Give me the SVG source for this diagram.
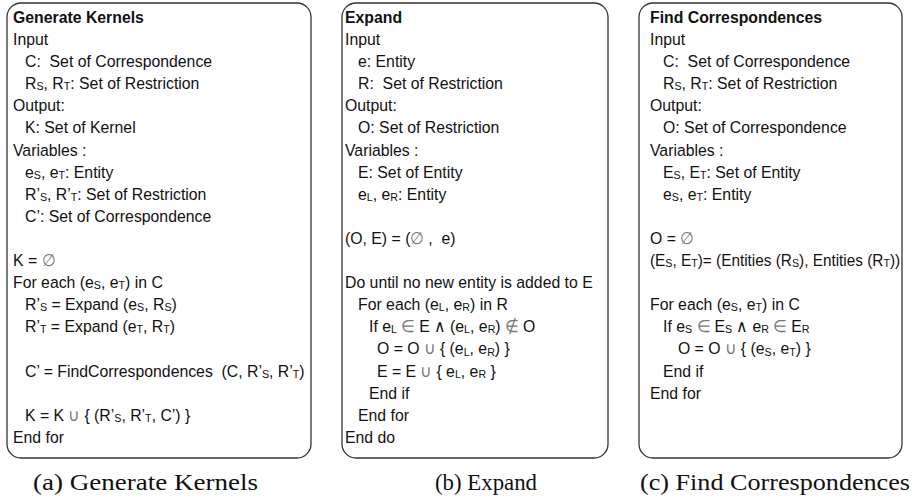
<svg xmlns="http://www.w3.org/2000/svg" width="912" height="502" viewBox="0 0 912 502">
  <style>
    .frame { fill: #fff; stroke: #333; stroke-width: 1.3; }
    .code { font-family: "Liberation Sans", Arial, sans-serif; font-size: 17px; fill: #111; }
    .title { font-weight: bold; }
    .s { font-size: 11.5px; baseline-shift: -1.5px; }
    .m { fill: #777; }
    .tight { font-size: 16.5px; }
    .cap { font-family: "Liberation Serif", "Times New Roman", serif; font-size: 23px; fill: #111; }
  </style>
  <rect width="912" height="502" fill="#fff"/>

  <!-- (a) Generate Kernels -->
  <g id="generate-kernels">
    <rect class="frame" x="7" y="3" width="304" height="455" rx="14" ry="14"/>
    <g class="code" transform="translate(13 0) scale(0.93 1)">
      <text class="title" x="0" y="23">Generate Kernels</text>
      <text x="0" y="45.1">Input</text>
      <text x="12.9" y="67.2">C:&#160; Set of Correspondence</text>
      <text x="12.9" y="89.3">R<tspan class="s">S</tspan>, R<tspan class="s">T</tspan>: Set of Restriction</text>
      <text x="0" y="111.4">Output:</text>
      <text x="12.9" y="133.5">K: Set of Kernel</text>
      <text x="0" y="155.6">Variables :</text>
      <text x="12.9" y="177.7">e<tspan class="s">S</tspan>, e<tspan class="s">T</tspan>: Entity</text>
      <text x="12.9" y="199.8">R’<tspan class="s">S</tspan>, R’<tspan class="s">T</tspan>: Set of Restriction</text>
      <text x="12.9" y="221.9">C’: Set of Correspondence</text>
      <text x="0" y="266.1">K = <tspan class="m">∅</tspan></text>
      <text x="0" y="288.2">For each (e<tspan class="s">S</tspan>, e<tspan class="s">T</tspan>) in C</text>
      <text x="12.9" y="310.3">R’<tspan class="s">S</tspan> = Expand (e<tspan class="s">S</tspan>, R<tspan class="s">S</tspan>)</text>
      <text x="12.9" y="332.4">R’<tspan class="s">T</tspan> = Expand (e<tspan class="s">T</tspan>, R<tspan class="s">T</tspan>)</text>
      <text x="12.9" y="376.6">C’ = FindCorrespondences&#160; (C, R’<tspan class="s">S</tspan>, R’<tspan class="s">T</tspan>)</text>
      <text x="12.9" y="420.8">K = K <tspan class="m">∪</tspan> { (R’<tspan class="s">S</tspan>, R’<tspan class="s">T</tspan>, C’) }</text>
      <text x="0" y="442.9">End for</text>
    </g>
    <text class="cap" x="33" y="490" textLength="225" lengthAdjust="spacingAndGlyphs">(a) Generate Kernels</text>
  </g>

  <!-- (b) Expand -->
  <g id="expand">
    <rect class="frame" x="342" y="3" width="266" height="455" rx="14" ry="14"/>
    <g class="code" transform="translate(345 0) scale(0.93 1)">
      <text class="title" x="0" y="23">Expand</text>
      <text x="0" y="45.1">Input</text>
      <text x="14" y="67.2">e: Entity</text>
      <text x="14" y="89.3">R:&#160; Set of Restriction</text>
      <text x="0" y="111.4">Output:</text>
      <text x="14" y="133.5">O: Set of Restriction</text>
      <text x="0" y="155.6">Variables :</text>
      <text x="14" y="177.7">E: Set of Entity</text>
      <text x="14" y="199.8">e<tspan class="s">L</tspan>, e<tspan class="s">R</tspan>: Entity</text>
      <text x="0" y="244">(O, E) = (<tspan class="m">∅</tspan> ,&#160; e)</text>
      <text x="0" y="288.2">Do until no new entity is added to E</text>
      <text x="14" y="310.3">For each (e<tspan class="s">L</tspan>, e<tspan class="s">R</tspan>) in R</text>
      <text x="25.8" y="332.4">If e<tspan class="s">L</tspan> <tspan class="m">∈</tspan> E ∧ (e<tspan class="s">L</tspan>, e<tspan class="s">R</tspan>) <tspan class="m">∉</tspan> O</text>
      <text x="34.4" y="354.5">O = O <tspan class="m">∪</tspan> { (e<tspan class="s">L</tspan>, e<tspan class="s">R</tspan>) }</text>
      <text x="34.4" y="376.6">E = E <tspan class="m">∪</tspan> { e<tspan class="s">L</tspan>, e<tspan class="s">R</tspan> }</text>
      <text x="25.8" y="398.7">End if</text>
      <text x="14" y="420.8">End for</text>
      <text x="0" y="442.9">End do</text>
    </g>
    <text class="cap" x="435" y="490" textLength="102" lengthAdjust="spacingAndGlyphs">(b) Expand</text>
  </g>

  <!-- (c) Find Correspondences -->
  <g id="find-correspondences">
    <rect class="frame" x="639" y="3" width="263" height="455" rx="14" ry="14"/>
    <g class="code" transform="translate(650 0) scale(0.93 1)">
      <text class="title" x="0" y="23">Find Correspondences</text>
      <text x="0" y="45.1">Input</text>
      <text x="14" y="67.2">C:&#160; Set of Correspondence</text>
      <text x="14" y="89.3">R<tspan class="s">S</tspan>, R<tspan class="s">T</tspan>: Set of Restriction</text>
      <text x="0" y="111.4">Output:</text>
      <text x="14" y="133.5">O: Set of Correspondence</text>
      <text x="0" y="155.6">Variables :</text>
      <text x="14" y="177.7">E<tspan class="s">S</tspan>, E<tspan class="s">T</tspan>: Set of Entity</text>
      <text x="14" y="199.8">e<tspan class="s">S</tspan>, e<tspan class="s">T</tspan>: Entity</text>
      <text x="0" y="244">O = <tspan class="m">∅</tspan></text>
      <text class="tight" x="0" y="266.1">(E<tspan class="s">S</tspan>, E<tspan class="s">T</tspan>)= (Entities (R<tspan class="s">S</tspan>), Entities (R<tspan class="s">T</tspan>))</text>
      <text x="0" y="310.3">For each (e<tspan class="s">S</tspan>, e<tspan class="s">T</tspan>) in C</text>
      <text x="14" y="332.4">If e<tspan class="s">S</tspan> <tspan class="m">∈</tspan> E<tspan class="s">S</tspan> ∧ e<tspan class="s">R</tspan> <tspan class="m">∈</tspan> E<tspan class="s">R</tspan></text>
      <text x="30" y="354.5">O = O <tspan class="m">∪</tspan> { (e<tspan class="s">S</tspan>, e<tspan class="s">T</tspan>) }</text>
      <text x="14" y="376.6">End if</text>
      <text x="0" y="398.7">End for</text>
    </g>
    <text class="cap" x="640" y="490" textLength="270" lengthAdjust="spacingAndGlyphs">(c) Find Correspondences</text>
  </g>
</svg>
